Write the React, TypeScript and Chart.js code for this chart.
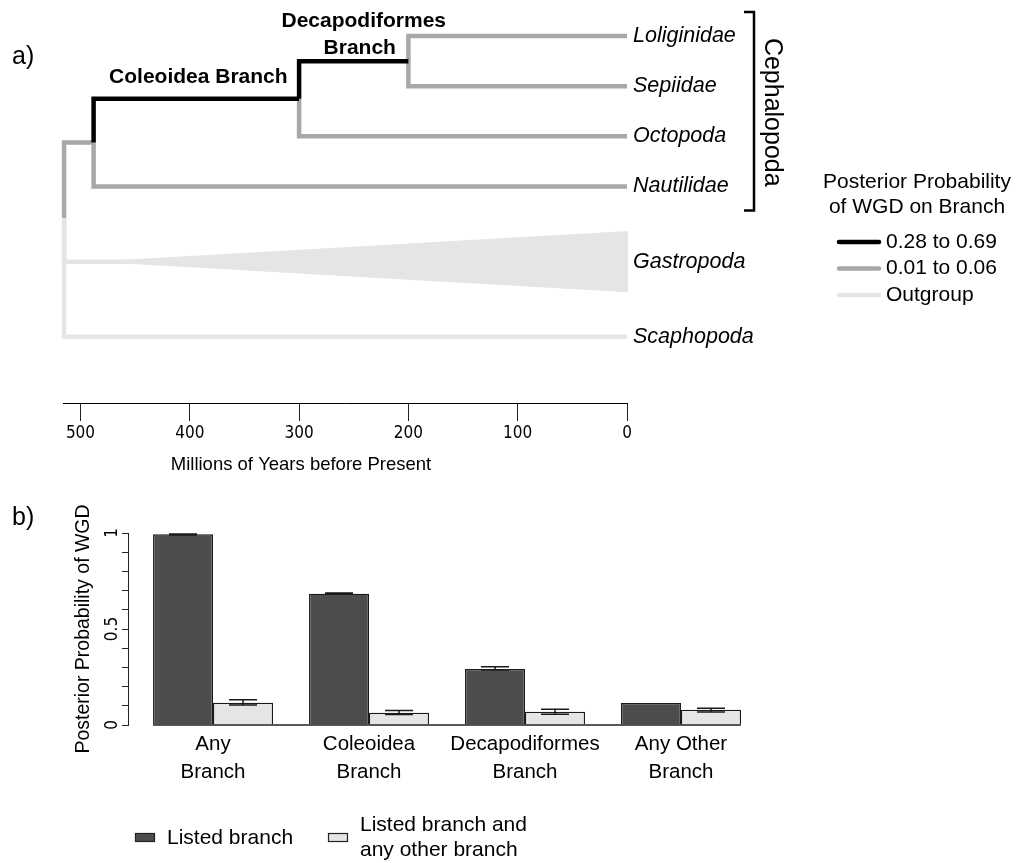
import React, { useEffect, useRef } from 'react';
import { Chart, registerables } from 'chart.js';

Chart.register(...registerables);

const FONT = '"Liberation Sans", Arial, Helvetica, sans-serif';
const NARROW = '"Liberation Sans Narrow", "Arial Narrow", "DejaVu Sans Condensed", sans-serif';

// ---- Panel a: dated tree (ages in millions of years) ----
const tipLabels = ['Loliginidae', 'Sepiidae', 'Octopoda', 'Nautilidae', 'Gastropoda', 'Scaphopoda'];
const tipRows = [6, 5, 4, 3, 1.5, 0];
const nodeLabels = ['root', 'Cephalopoda', 'Coleoidea', 'Decapodiformes'];
const nodeAges = [515, 488, 300, 200];
const nodeRows = [2.37, 3.875, 4.75, 5.5];
const edgeParents = ['root', 'Cephalopoda', 'Cephalopoda', 'Coleoidea', 'Coleoidea', 'Decapodiformes', 'Decapodiformes', 'root', 'root'];
const edgeChildren = ['Cephalopoda', 'Coleoidea', 'Nautilidae', 'Decapodiformes', 'Octopoda', 'Loliginidae', 'Sepiidae', 'Gastropoda', 'Scaphopoda'];
const edgeClasses = ['low', 'high', 'low', 'high', 'low', 'low', 'low', 'out', 'out'];
const gastropodaCrownAge = 482;
const gastropodaSpread = 0.6;
const ageTicks = [500, 400, 300, 200, 100, 0];
const classKeys = ['high', 'low', 'out'];
const classLabels = ['0.28 to 0.69', '0.01 to 0.06', 'Outgroup'];
const cladeName = 'Cephalopoda';
const cladeFirstTip = 'Loliginidae';
const cladeLastTip = 'Nautilidae';

// ---- Panel b: posterior probability of WGD ----
const branchCategories = [['Any', 'Branch'], ['Coleoidea', 'Branch'], ['Decapodiformes', 'Branch'], ['Any Other', 'Branch']];
const listedMean = [0.993, 0.684, 0.292, 0.115];
const listedLow = [0.990, 0.681, 0.286, 0.115];
const listedHigh = [0.995, 0.687, 0.303, 0.115];
const otherMean = [0.116, 0.064, 0.069, 0.08];
const otherLow = [0.104, 0.055, 0.056, 0.068];
const otherHigh = [0.132, 0.076, 0.082, 0.087];
const probTicks = [0, 0.1, 0.2, 0.3, 0.4, 0.5, 0.6, 0.7, 0.8, 0.9, 1];
const probTickLabels = [0, 0.5, 1];
const seriesNames = ['Listed branch', 'Listed branch and any other branch'];

const classColors: Record<string, string> = { high: '#000000', low: '#a8a8a8', out: '#e5e5e5' };
const LINE_W = 4.5;

function placeOf(name: string) {
  const t = tipLabels.indexOf(name);
  if (t >= 0) return { age: 0, row: tipRows[t] };
  const n = nodeLabels.indexOf(name);
  return { age: nodeAges[n], row: nodeRows[n] };
}

function treeDatasets() {
  const sets: any[] = [];
  classKeys.forEach((cls) => {
    edgeClasses.forEach((c, i) => {
      if (c !== cls) return;
      const p = placeOf(edgeParents[i]);
      const ch = placeOf(edgeChildren[i]);
      sets.push({
        label: edgeChildren[i],
        data: [
          { x: p.age, y: p.row },
          { x: p.age, y: ch.row },
          { x: ch.age, y: ch.row },
        ],
        borderColor: classColors[cls],
        borderWidth: LINE_W,
        borderCapStyle: 'butt',
        borderJoinStyle: 'miter',
        pointRadius: 0,
        tension: 0,
        fill: false,
        clip: false,
      });
    });
  });
  // collapsed Gastropoda clade drawn as a wedge
  const gRow = tipRows[tipLabels.indexOf('Gastropoda')];
  sets.push({
    label: 'Gastropoda clade',
    data: [
      { x: gastropodaCrownAge, y: gRow },
      { x: 0, y: gRow + gastropodaSpread },
      { x: 0, y: gRow - gastropodaSpread },
      { x: gastropodaCrownAge, y: gRow },
    ],
    borderColor: classColors.out,
    backgroundColor: classColors.out,
    borderWidth: 1,
    pointRadius: 0,
    tension: 0,
    fill: 'shape',
    clip: false,
  });
  return sets;
}

const treeDecor = {
  id: 'treeDecor',
  afterDraw(chart: any) {
    const { ctx } = chart;
    const xs = chart.scales.x;
    const ys = chart.scales.y;
    const px = (a: number) => xs.getPixelForValue(a);
    const py = (r: number) => ys.getPixelForValue(r);
    ctx.save();
    ctx.fillStyle = '#000';
    ctx.textBaseline = 'middle';

    ctx.textAlign = 'left';
    ctx.font = `25px ${FONT}`;
    ctx.fillText('a)', 12, 57);

    // tip names
    ctx.font = `italic 21.5px ${FONT}`;
    tipLabels.forEach((t, i) => ctx.fillText(t, px(0) + 6, py(tipRows[i])));

    // named branches
    ctx.font = `bold 21px ${FONT}`;
    ctx.textAlign = 'center';
    const col = placeOf('Coleoidea');
    const ceph = placeOf('Cephalopoda');
    ctx.fillText('Coleoidea Branch', px((ceph.age + col.age) / 2) + 2, py(col.row) - 22);
    const dec = placeOf('Decapodiformes');
    const dx = px((col.age + dec.age) / 2) + 6;
    ctx.fillText('Decapodiformes', dx + 4, py(dec.row) - 40);
    ctx.fillText('Branch', dx, py(dec.row) - 13);

    // clade bracket
    const top = py(tipRows[tipLabels.indexOf(cladeFirstTip)] + 0.48);
    const bot = py(tipRows[tipLabels.indexOf(cladeLastTip)] - 0.48);
    const bx = px(0) + 127;
    ctx.strokeStyle = '#000';
    ctx.lineWidth = 2.5;
    ctx.beginPath();
    ctx.moveTo(bx - 10, top);
    ctx.lineTo(bx, top);
    ctx.lineTo(bx, bot);
    ctx.lineTo(bx - 10, bot);
    ctx.stroke();
    ctx.save();
    ctx.translate(bx + 18, (top + bot) / 2 + 1);
    ctx.rotate(Math.PI / 2);
    ctx.font = `25px ${FONT}`;
    ctx.fillText(cladeName, 0, 0);
    ctx.restore();

    // legend for branch colours
    ctx.font = `21px ${FONT}`;
    ctx.textAlign = 'center';
    ctx.fillText('Posterior Probability', 917, 182);
    ctx.fillText('of WGD on Branch', 917, 207);
    ctx.textAlign = 'left';
    classKeys.forEach((k, i) => {
      const y = 242 + i * 26.5;
      ctx.strokeStyle = classColors[k];
      ctx.lineWidth = LINE_W;
      ctx.lineCap = 'round';
      ctx.beginPath();
      ctx.moveTo(839, y);
      ctx.lineTo(879, y);
      ctx.stroke();
      ctx.fillText(classLabels[i], 886, y);
    });

    // time axis title
    ctx.font = `18.5px ${FONT}`;
    ctx.textAlign = 'center';
    ctx.fillText('Millions of Years before Present', 301, 465);
    ctx.restore();
  },
};

function treeConfig(): any {
  return {
    type: 'line',
    data: { datasets: treeDatasets() },
    plugins: [treeDecor],
    options: {
      responsive: false,
      animation: false,
      devicePixelRatio: 1,
      events: [],
      layout: { padding: { left: 63, right: 393, top: 11, bottom: 0 } },
      plugins: { legend: { display: false }, tooltip: { enabled: false } },
      scales: {
        x: {
          type: 'linear',
          reverse: true,
          min: 0,
          max: 516,
          afterBuildTicks: (s: any) => {
            s.ticks = ageTicks.map((v) => ({ value: v }));
          },
          afterFit: (s: any) => {
            s.height = 87;
          },
          border: { display: true, color: '#000', width: 1 },
          grid: { display: true, drawOnChartArea: false, drawTicks: true, tickLength: 18, color: '#222', lineWidth: 1 },
          ticks: {
            color: '#000',
            font: { family: NARROW, size: 17 },
            padding: 2,
            maxRotation: 0,
            autoSkip: false,
            callback: (v: any) => String(v),
          },
        },
        y: { type: 'linear', display: false, min: -1.32, max: 6.5 },
      },
    },
  };
}

const barDecor = {
  id: 'barDecor',
  afterDatasetsDraw(chart: any) {
    const { ctx } = chart;
    const ys = chart.scales.y;
    const m0 = chart.getDatasetMeta(0);
    const m1 = chart.getDatasetMeta(1);
    ctx.save();
    // baseline under the bars
    const first = m0.data[0];
    const last = m1.data[m1.data.length - 1];
    const y0 = ys.getPixelForValue(0);
    ctx.strokeStyle = '#222';
    ctx.lineWidth = 1.5;
    ctx.beginPath();
    ctx.moveTo(first.x - first.width / 2, y0);
    ctx.lineTo(last.x + last.width / 2, y0);
    ctx.stroke();
    // error bars
    const sets: [any, number[], number[]][] = [[m0, listedLow, listedHigh], [m1, otherLow, otherHigh]];
    ctx.strokeStyle = '#1a1a1a';
    ctx.lineWidth = 1.5;
    sets.forEach(([meta, lo, hi]) => {
      meta.data.forEach((bar: any, i: number) => {
        if (hi[i] <= lo[i]) return;
        const yl = ys.getPixelForValue(lo[i]);
        const yh = ys.getPixelForValue(hi[i]);
        ctx.beginPath();
        ctx.moveTo(bar.x, yl);
        ctx.lineTo(bar.x, yh);
        ctx.moveTo(bar.x - 14, yl);
        ctx.lineTo(bar.x + 14, yl);
        ctx.moveTo(bar.x - 14, yh);
        ctx.lineTo(bar.x + 14, yh);
        ctx.stroke();
      });
    });
    ctx.restore();
  },
  afterDraw(chart: any) {
    const { ctx } = chart;
    const ds = chart.data.datasets;
    ctx.save();
    ctx.fillStyle = '#000';
    ctx.textBaseline = 'middle';
    ctx.textAlign = 'left';
    ctx.font = `25px ${FONT}`;
    ctx.fillText('b)', 12, 28);

    // series key
    ctx.lineWidth = 1.2;
    ctx.strokeStyle = '#222';
    ctx.fillStyle = ds[0].backgroundColor;
    ctx.fillRect(135.5, 343.5, 19, 8);
    ctx.strokeRect(135.5, 343.5, 19, 8);
    ctx.fillStyle = ds[1].backgroundColor;
    ctx.fillRect(328.5, 343.5, 19, 8);
    ctx.strokeRect(328.5, 343.5, 19, 8);
    ctx.fillStyle = '#000';
    ctx.font = `21px ${FONT}`;
    ctx.fillText(seriesNames[0], 167, 348);
    ctx.fillText('Listed branch and', 360, 335);
    ctx.fillText('any other branch', 360, 360);
    ctx.restore();
  },
};

function barConfig(): any {
  const common = { borderColor: '#1a1a1a', borderWidth: 1.3, categoryPercentage: 0.769, barPercentage: 1 };
  return {
    type: 'bar',
    data: {
      datasets: [
        { label: seriesNames[0], data: listedMean.map((v, i) => ({ x: i, y: v })), backgroundColor: '#4d4d4d', ...common },
        { label: seriesNames[1], data: otherMean.map((v, i) => ({ x: i, y: v })), backgroundColor: '#e5e5e5', ...common },
      ],
    },
    plugins: [barDecor],
    options: {
      responsive: false,
      animation: false,
      devicePixelRatio: 1,
      events: [],
      layout: { padding: { left: 60, right: 261, top: 43, bottom: 0 } },
      plugins: { legend: { display: false }, tooltip: { enabled: false } },
      scales: {
        x: {
          type: 'linear',
          min: -0.545,
          max: 3.5,
          offset: false,
          afterBuildTicks: (s: any) => {
            s.ticks = branchCategories.map((_, i) => ({ value: i }));
          },
          afterFit: (s: any) => {
            s.height = 138;
          },
          border: { display: false },
          grid: { display: false, drawTicks: false, offset: false },
          ticks: {
            color: '#000',
            font: { family: FONT, size: 20.5, lineHeight: 1.35 },
            padding: 6,
            maxRotation: 0,
            autoSkip: false,
            callback: (v: any) => branchCategories[v],
          },
        },
        y: {
          type: 'linear',
          min: 0,
          max: 1,
          afterBuildTicks: (s: any) => {
            s.ticks = probTicks.map((v) => ({ value: v }));
          },
          afterFit: (s: any) => {
            s.width = 68;
          },
          border: { display: true, color: '#222', width: 1 },
          grid: { display: true, drawOnChartArea: false, drawTicks: true, tickLength: 6, color: '#222' },
          ticks: {
            color: '#000',
            font: { family: NARROW, size: 17 },
            minRotation: 90,
            maxRotation: 90,
            crossAlign: 'center',
            padding: -3,
            autoSkip: false,
            callback: (v: any) => (probTickLabels.includes(v) ? String(v) : ''),
          },
          title: {
            display: true,
            text: 'Posterior Probability of WGD',
            color: '#000',
            font: { family: FONT, size: 19.5 },
            padding: { top: 12, bottom: 0 },
          },
        },
      },
    },
  };
}

export default function App() {
  const treeRef = useRef<HTMLCanvasElement>(null);
  const barRef = useRef<HTMLCanvasElement>(null);

  useEffect(() => {
    const tree = new Chart(treeRef.current as HTMLCanvasElement, treeConfig());
    const bars = new Chart(barRef.current as HTMLCanvasElement, barConfig());
    return () => {
      tree.destroy();
      bars.destroy();
    };
  }, []);

  return (
    <div style={{ position: 'absolute', left: 0, top: 0, width: 1020, height: 863, background: '#fff' }}>
      <canvas ref={treeRef} width={1020} height={490} style={{ position: 'absolute', left: 0, top: 0 }} />
      <canvas ref={barRef} width={1020} height={373} style={{ position: 'absolute', left: 0, top: 490 }} />
    </div>
  );
}
